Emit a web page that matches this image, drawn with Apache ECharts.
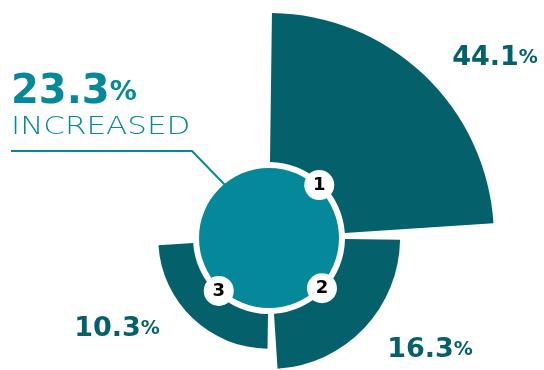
<!DOCTYPE html>
<html>
<head>
<meta charset="utf-8">
<script src="https://cdn.jsdelivr.net/npm/echarts@6/dist/echarts.min.js"></script>
<style>
  html, body { margin: 0; padding: 0; background: #fff; }
  #chart { width: 544px; height: 370px; }
</style>
</head>
<body>
<div id="chart"></div>
<script>
// data
const categories = ['1', '2', '3', ''];
const shares = [44.1, 16.3, 10.3, '-'];
const increased = 23.3;
const increasedText = 'INCREASED';

const dark = '#04606b';
const teal = '#04889a';
const font = '"DejaVu Sans", sans-serif';
const cx = 269, cy = 238;

let chart = echarts.init(document.getElementById('chart'));

function pctText(v) {
  return '{n|' + v.toFixed(1) + '}{p|%}';
}
const pctRich = {
  n: { fontFamily: font, fontSize: 27, fontWeight: 'bold', fill: dark, color: dark },
  p: { fontFamily: font, fontSize: 19, fontWeight: 'bold', fill: dark, color: dark }
};

// where the value labels sit
const labelPos = [[495, 58], [430, 350], [117, 329]];

let graphics = [];
shares.forEach((v, i) => {
  if (v === '-') return;
  graphics.push({
    type: 'text',
    x: labelPos[i][0], y: labelPos[i][1],
    style: { text: pctText(v), rich: pctRich, align: 'center', verticalAlign: 'middle' }
  });
});
graphics.push({
  type: 'text', x: 11, y: 93,
  style: {
    text: '{n|' + increased.toFixed(1) + '}{p|%}',
    rich: {
      n: { fontFamily: font, fontSize: 40, fontWeight: 'bold', fill: teal, color: teal },
      p: { fontFamily: font, fontSize: 27, fontWeight: 'bold', fill: teal, color: teal }
    },
    align: 'left', verticalAlign: 'middle'
  }
});
graphics.push({
  type: 'text', x: 11, y: 127, scaleX: 1.24,
  style: { text: increasedText, fontFamily: font, fontSize: 25, fontWeight: 200, fill: teal, align: 'left', verticalAlign: 'middle' }
});
graphics.push({
  type: 'polyline', z: 0,
  shape: { points: [[11, 151], [192, 151], [226, 186]] },
  style: { stroke: teal, lineWidth: 2, fill: null }
});

let option = {
  backgroundColor: '#fff',
  animation: false,
  polar: [
    { center: [cx, cy], radius: [76, 225] },
    { center: [cx, cy], radius: [0, 73] }
  ],
  angleAxis: [
    { polarIndex: 0, type: 'category', data: categories, startAngle: 91.5, clockwise: true, show: false },
    { polarIndex: 1, type: 'category', data: categories, startAngle: 91.5, clockwise: true, show: false }
  ],
  radiusAxis: [
    { polarIndex: 0, type: 'value', min: 0, max: 44.1, show: false },
    { polarIndex: 1, type: 'value', min: 0, max: 1, show: false }
  ],
  graphic: graphics,
  series: [
    {
      type: 'bar',
      coordinateSystem: 'polar',
      polarIndex: 0,
      data: shares,
      barCategoryGap: '5%',
      itemStyle: { color: dark },
      silent: true,
      z: 2
    },
    {
      type: 'pie',
      center: [cx, cy],
      radius: [0, 70],
      data: [{ value: increased, name: 'increased' }],
      itemStyle: { color: teal },
      label: { show: false },
      labelLine: { show: false },
      silent: true,
      z: 3
    },
    {
      type: 'scatter',
      coordinateSystem: 'polar',
      polarIndex: 1,
      data: categories.slice(0, 3).map((c) => [1, c]),
      symbol: 'circle',
      symbolSize: 30,
      itemStyle: { color: '#fff', opacity: 1 },
      label: {
        show: true,
        position: 'inside',
        formatter: (p) => categories[p.dataIndex],
        fontFamily: font,
        fontSize: 18,
        fontWeight: 'bold',
        color: '#000'
      },
      silent: true,
      z: 5
    }
  ]
};

chart.setOption(option);
</script>
</body>
</html>
